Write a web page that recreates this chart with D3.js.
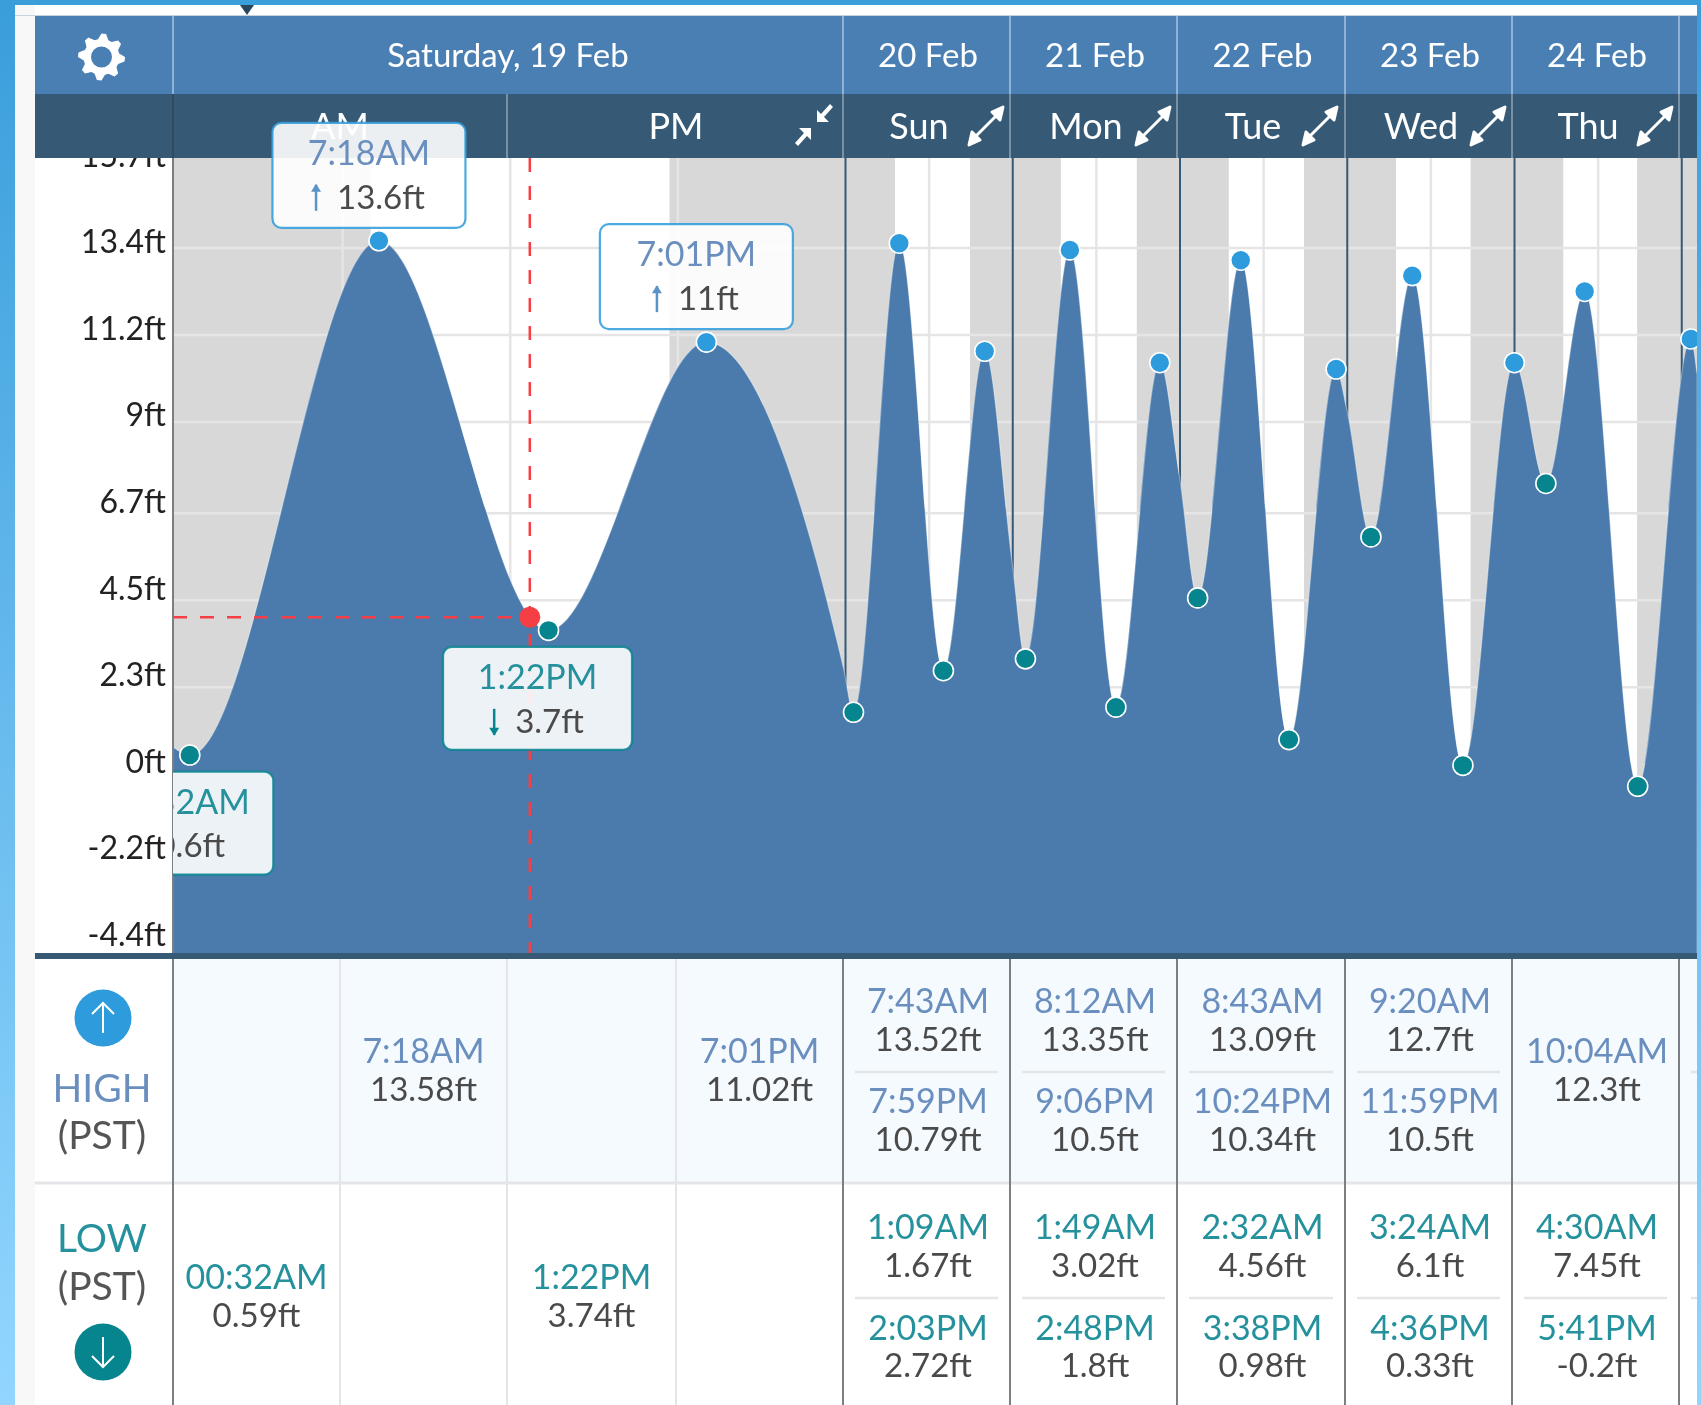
<!DOCTYPE html>
<html>
<head>
<meta charset="utf-8">
<script src="https://cdn.jsdelivr.net/npm/d3@7"></script>
<style>
  html, body { margin: 0; padding: 0; background: #fff; }
  svg { display: block; filter: blur(0.7px); }
  text { font-family: Lato, "Open Sans", sans-serif; }
</style>
</head>
<body>
<div id="chart"></div>
<script>
// *** DATA ***

//Tide curve: hours since Saturday 00:00, height in ft (extremes plus day edges)
let tideHours = [-0.08, 0.53, 7.3, 13.37, 19.02, 23.93,
  25.15, 31.72, 38.05, 43.98, 47.95,
  49.82, 56.2, 62.8, 69.1, 71.95,
  74.53, 80.72, 87.63, 94.4, 95.95,
  99.4, 105.33, 112.6, 119.98,
  124.5, 130.07, 137.68, 145.3, 146.2]
let tideFeet = [0.8, 0.59, 13.58, 3.74, 11.02, 2.78,
  1.67, 13.52, 2.72, 10.79, 5.4,
  3.02, 13.35, 1.8, 10.5, 7.6,
  4.56, 13.09, 0.98, 10.34, 9.3,
  6.1, 12.7, 0.33, 10.5,
  7.45, 12.3, -0.2, 11.1, 10.2]

let highHours = [7.3, 19.02, 31.72, 43.98, 56.2, 69.1, 80.72, 94.4, 105.33, 119.98, 130.07, 145.3]
let highFeet = [13.58, 11.02, 13.52, 10.79, 13.35, 10.5, 13.09, 10.34, 12.7, 10.5, 12.3, 11.1]
let lowHours = [0.53, 13.37, 25.15, 38.05, 49.82, 62.8, 74.53, 87.63, 99.4, 112.6, 124.5, 137.68]
let lowFeet = [0.59, 3.74, 1.67, 2.72, 3.02, 1.8, 4.56, 0.98, 6.1, 0.33, 7.45, -0.2]

let cursorHour = 12.7, cursorFeet = 4.07

let sunriseHours = [7, 31.1, 54.9, 79, 103, 127]
let sunsetHours = [17.7, 41.87, 65.8, 89.8, 113.7, 137.6]

let gridFeet = [13.4, 11.2, 9, 6.7, 4.5, 2.3]
let axisLabels = ["15.7ft", "13.4ft", "11.2ft", "9ft", "6.7ft", "4.5ft", "2.3ft", "0ft", "-2.2ft", "-4.4ft"]
let quarterHours = [6, 12, 18]
let noonHours = [36, 60, 84, 108, 132]
let dayHours = [24, 48, 72, 96, 120, 144]

let dateLabels = ["20 Feb", "21 Feb", "22 Feb", "23 Feb", "24 Feb"]
let weekdayLabels = ["Sun", "Mon", "Tue", "Wed", "Thu"]

let highTimes = [["7:43AM", "7:59PM"], ["8:12AM", "9:06PM"], ["8:43AM", "10:24PM"], ["9:20AM", "11:59PM"], ["10:04AM"]]
let highValues = [["13.52ft", "10.79ft"], ["13.35ft", "10.5ft"], ["13.09ft", "10.34ft"], ["12.7ft", "10.5ft"], ["12.3ft"]]
let lowTimes = [["1:09AM", "2:03PM"], ["1:49AM", "2:48PM"], ["2:32AM", "3:38PM"], ["3:24AM", "4:36PM"], ["4:30AM", "5:41PM"]]
let lowValues = [["1.67ft", "2.72ft"], ["3.02ft", "1.8ft"], ["4.56ft", "0.98ft"], ["6.1ft", "0.33ft"], ["7.45ft", "-0.2ft"]]

let satHighCells = [{q: 1, time: "7:18AM", value: "13.58ft"}, {q: 3, time: "7:01PM", value: "11.02ft"}]
let satLowCells = [{q: 0, time: "00:32AM", value: "0.59ft"}, {q: 2, time: "1:22PM", value: "3.74ft"}]

let tipLabels = [
  {hour: 7.3, feet: 13.58, time: "7:18AM", value: "13.6ft", kind: "high"},
  {hour: 19.02, feet: 11.02, time: "7:01PM", value: "11ft", kind: "high"},
  {hour: 0.53, feet: 0.59, time: "00:32AM", value: "0.6ft", kind: "low"},
  {hour: 13.37, feet: 3.74, time: "1:22PM", value: "3.7ft", kind: "low"}
]

// *** SETTINGS ***

let colors = {
  area: "#4a7bac", top: "#4a7fb4", band: "#365a76", night: "#d8d8d8", grid: "#e5e5e5",
  blue: "#2e9bdc", teal: "#07858f", red: "#f53f45", timeHigh: "#6a8fbf", timeLow: "#24919c",
  value: "#4a4a4a", axis: "#222", dayLine: "#7b7f83", softLine: "#e3e5e8", rowHigh: "#f5fafe"
}
let width = 1701, height = 1405
let left = 173, right = 1697
let headerTop = 16, headerMid = 94, headerBottom = 158
let chartBottom = 953, tableTop = 959, rowSplit = 1183

//Chart scales
let x = d3.scaleLinear()
  .domain([0, 24, 48, 72, 96, 120, 144, 168])
  .range([175, 845.5, 1012.75, 1180, 1347.25, 1514.5, 1681.75, 1849])
let y = d3.scaleLinear().domain([0, 13.58]).range([778.4, 240.8])
let axisY = d3.scalePoint().domain(axisLabels).range([155, 934.5])

//Header and table columns sit a few px left of the plot
let col = d3.scaleLinear()
  .domain([0, 6, 12, 18, 24, 48, 72, 96, 120, 144, 168])
  .range([173, 340, 507, 676, 843, 1010, 1177, 1345, 1512, 1679, 1846])

let svg = d3.select("#chart").append("svg")
  .attr("width", width)
  .attr("height", height)

let defs = svg.append("defs")
let grad = defs.append("linearGradient").attr("id", "edge").attr("x1", 0).attr("x2", 0).attr("y1", 0).attr("y2", 1)
grad.append("stop").attr("offset", "0%").attr("stop-color", "#3a9edb")
grad.append("stop").attr("offset", "100%").attr("stop-color", "#92d6ff")
defs.append("clipPath").attr("id", "plotClip").append("rect")
  .attr("x", left).attr("y", headerBottom).attr("width", right - left).attr("height", chartBottom - headerBottom)
defs.append("clipPath").attr("id", "tipClip").append("rect")
  .attr("x", left).attr("y", 0).attr("width", right - left).attr("height", height)

//Page background
svg.append("rect").attr("width", width).attr("height", height).attr("fill", "#fff")
svg.append("rect").attr("x", 15).attr("y", 5).attr("width", 20).attr("height", height).attr("fill", "#f8f8f8")
svg.append("rect").attr("x", 15).attr("y", 15).attr("width", width).attr("height", 1).attr("fill", "#c9d3dc")

////////////////////// CHART //////////////////////

let plot = svg.append("g").attr("clip-path", "url(#plotClip)")

//Night bands: before sunrise, after sunset
let nightEdges = [[0, sunriseHours[0]]]
sunsetHours.forEach((h, i) => {
  nightEdges.push([h, i < sunriseHours.length - 1 ? sunriseHours[i + 1] : 168])
})
plot.selectAll("rect.night")
  .data(nightEdges)
  .enter()
  .append("rect")
    .attr("class", "night")
    .attr("x", (d, i) => i == 0 ? left : x(d[0]))
    .attr("y", headerBottom)
    .attr("width", (d, i) => x(d[1]) - (i == 0 ? left : x(d[0])))
    .attr("height", chartBottom - headerBottom)
    .attr("fill", colors.night)

//Grid
plot.selectAll("line.hgrid")
  .data(gridFeet)
  .enter()
  .append("line")
    .attr("x1", left).attr("x2", right)
    .attr("y1", d => y(d)).attr("y2", d => y(d))
    .attr("stroke", colors.grid)
    .attr("stroke-width", 2.5)

plot.selectAll("line.vgrid")
  .data(quarterHours.concat(noonHours))
  .enter()
  .append("line")
    .attr("x1", d => x(d)).attr("x2", d => x(d))
    .attr("y1", headerBottom).attr("y2", chartBottom)
    .attr("stroke", colors.grid)
    .attr("stroke-width", 2.5)

plot.selectAll("line.day")
  .data(dayHours)
  .enter()
  .append("line")
    .attr("x1", d => x(d)).attr("x2", d => x(d))
    .attr("y1", headerBottom).attr("y2", chartBottom)
    .attr("stroke", colors.band)
    .attr("stroke-width", 2)

//Tide area
let area = d3.area()
  .x((d, i) => x(tideHours[i]))
  .y0(chartBottom + 2)
  .y1(d => y(d))
  .curve(d3.curveMonotoneX)

plot.append("path")
  .datum(tideFeet)
  .attr("d", area)
  .attr("fill", colors.area)
  .attr("stroke", "#fff")
  .attr("stroke-opacity", 0.35)
  .attr("stroke-width", 1.2)

//Cursor lines
plot.append("line")
  .attr("x1", x(cursorHour)).attr("x2", x(cursorHour))
  .attr("y1", headerBottom).attr("y2", chartBottom)
  .attr("stroke", colors.red).attr("stroke-width", 2.5).attr("stroke-dasharray", "14,14")
plot.append("line")
  .attr("x1", left).attr("x2", x(cursorHour))
  .attr("y1", y(cursorFeet)).attr("y2", y(cursorFeet))
  .attr("stroke", colors.red).attr("stroke-width", 2.5).attr("stroke-dasharray", "14,13")

//Dots
plot.selectAll("circle.high")
  .data(highFeet)
  .enter()
  .append("circle")
    .attr("cx", (d, i) => x(highHours[i]))
    .attr("cy", d => y(d))
    .attr("r", 10)
    .attr("fill", colors.blue)
    .attr("stroke", "#fff")
    .attr("stroke-width", 1.6)

plot.selectAll("circle.low")
  .data(lowFeet)
  .enter()
  .append("circle")
    .attr("cx", (d, i) => x(lowHours[i]))
    .attr("cy", d => y(d))
    .attr("r", 10)
    .attr("fill", colors.teal)
    .attr("stroke", "#fff")
    .attr("stroke-width", 1.6)

plot.append("circle")
  .attr("cx", x(cursorHour))
  .attr("cy", y(cursorFeet))
  .attr("r", 10.5)
  .attr("fill", colors.red)

//Axis labels
svg.selectAll("text.axis")
  .data(axisLabels)
  .enter()
  .append("text")
    .attr("class", "axis")
    .attr("x", 166)
    .attr("y", d => axisY(d))
    .attr("dy", "0.36em")
    .attr("text-anchor", "end")
    .style("font-size", "32px")
    .style("fill", colors.axis)
    .text(d => d)

svg.append("line")
  .attr("x1", left).attr("x2", left)
  .attr("y1", headerBottom).attr("y2", chartBottom)
  .attr("stroke", colors.dayLine).attr("stroke-width", 2)

////////////////////// HEADER //////////////////////

let header = svg.append("g")
header.append("rect").attr("x", 35).attr("y", headerTop).attr("width", right - 35).attr("height", headerMid - headerTop).attr("fill", colors.top)
header.append("rect").attr("x", 35).attr("y", headerMid).attr("width", right - 35).attr("height", headerBottom - headerMid).attr("fill", colors.band)

let headerLines = [0, 24, 48, 72, 96, 120, 144]
header.selectAll("line.top")
  .data(headerLines)
  .enter()
  .append("line")
    .attr("x1", d => col(d)).attr("x2", d => col(d))
    .attr("y1", headerTop).attr("y2", headerMid)
    .attr("stroke", "#a9c3dc").attr("stroke-width", 1.5)
header.selectAll("line.mid")
  .data(headerLines.concat([12]))
  .enter()
  .append("line")
    .attr("x1", d => col(d)).attr("x2", d => col(d))
    .attr("y1", headerMid).attr("y2", headerBottom)
    .attr("stroke", d => d == 0 ? "#2d4759" : "#8fa5b6").attr("stroke-width", 1.5)

//Small pointer above the header
header.append("path")
  .attr("d", d3.line()([[240, 5], [254, 5], [247, 15]]) + "Z")
  .attr("fill", "#28475f")

//Gear icon
let gear = d3.path()
let teeth = 8
for (let i = 0; i < teeth * 4; i++) {
  let a = (i + 0.5) / (teeth * 4) * 2 * Math.PI - Math.PI / 2 - Math.PI / (teeth * 4)
  let r = (i % 4 == 0 || i % 4 == 1) ? 23.5 : 18
  let px = r * Math.cos(a), py = r * Math.sin(a)
  if (i == 0) gear.moveTo(px, py); else gear.lineTo(px, py)
}
gear.closePath()
gear.moveTo(10.5, 0)
gear.arc(0, 0, 10.5, 0, 2 * Math.PI)
header.append("path")
  .attr("transform", "translate(101.5,57)")
  .attr("d", gear.toString())
  .attr("fill", "#fff")
  .attr("fill-rule", "evenodd")

function headerText(px, py, size, txt) {
  return header.append("text")
    .attr("x", px)
    .attr("y", py)
    .attr("dy", "0.36em")
    .attr("text-anchor", "middle")
    .style("font-size", size + "px")
    .style("fill", "#fff")
    .text(txt)
}

headerText((col(0) + col(24)) / 2, 55, 33, "Saturday, 19 Feb")
headerText(340, 126, 36, "AM")
headerText(676, 126, 36, "PM")

header.selectAll("text.date")
  .data(dateLabels)
  .enter()
  .append("text")
    .attr("x", (d, i) => (col(dayHours[i]) + col(dayHours[i] + 24)) / 2 + 1.5)
    .attr("y", 55)
    .attr("dy", "0.36em")
    .attr("text-anchor", "middle")
    .style("font-size", "33px")
    .style("fill", "#fff")
    .text(d => d)

header.selectAll("text.weekday")
  .data(weekdayLabels)
  .enter()
  .append("text")
    .attr("x", (d, i) => col(dayHours[i]) + 76)
    .attr("y", 126)
    .attr("dy", "0.36em")
    .attr("text-anchor", "middle")
    .style("font-size", "36px")
    .style("fill", "#fff")
    .text(d => d)

//Expand icons
let expandIcon = "M-17,19L-14,6L-10,10L10,-10L6,-14L17,-19L14,-6L10,-10L-10,10L-6,14Z"
let shrinkIcon = "M3,-3L3,-15L7,-11L16,-21L19,-18L10,-8L15,-3ZM-3,3L-3,15L-7,11L-16,21L-19,18L-10,8L-15,3Z"
header.append("path").attr("transform", "translate(814,125)").attr("d", shrinkIcon).attr("fill", "#fff")
header.selectAll("path.expand")
  .data(weekdayLabels)
  .enter()
  .append("path")
    .attr("transform", (d, i) => "translate(" + (col(dayHours[i]) + 143) + ",126)")
    .attr("d", expandIcon)
    .attr("fill", "#fff")
    .attr("stroke", "#fff")
    .attr("stroke-width", 3)
    .attr("stroke-linejoin", "round")

////////////////////// TOOLTIPS //////////////////////

let tips = svg.append("g").attr("clip-path", "url(#tipClip)")
tipLabels.forEach(d => {
  let isHigh = d.kind == "high"
  let w = isHigh ? 193 : 189, h = isHigh ? 105 : 103
  let cx = x(d.hour) - (isHigh ? 10 : 11)
  let top = isHigh ? y(d.feet) - 13 - h : y(d.feet) + 16.5
  let main = isHigh ? colors.blue : colors.teal

  tips.append("rect")
    .attr("x", cx - w / 2).attr("y", top)
    .attr("width", w).attr("height", h)
    .attr("rx", 9).attr("ry", 9)
    .attr("fill", "#fff").attr("fill-opacity", 0.9)
    .attr("stroke", main).attr("stroke-opacity", 0.85).attr("stroke-width", 2.2)

  tips.append("text")
    .attr("x", cx).attr("y", top + 30).attr("dy", "0.36em")
    .attr("text-anchor", "middle")
    .style("font-size", "34px")
    .style("fill", isHigh ? colors.timeHigh : colors.timeLow)
    .text(d.time)

  let valueText = tips.append("text")
    .attr("y", top + 74).attr("dy", "0.36em")
    .style("font-size", "33px")
    .style("fill", colors.value)
    .text(d.value)
  let vw = valueText.node().getComputedTextLength()
  let startX = cx - (vw + 24) / 2
  valueText.attr("x", startX + 24)

  //Arrow beside the value
  let ax = startX + 3, ay = top + 75
  tips.append("line")
    .attr("x1", ax).attr("x2", ax)
    .attr("y1", ay - 13).attr("y2", ay + 13)
    .attr("stroke", isHigh ? "#5b93c8" : colors.teal)
    .attr("stroke-width", 2.5)
  tips.append("path")
    .attr("d", isHigh
      ? d3.line()([[ax - 5, ay - 6], [ax, ay - 14], [ax + 5, ay - 6]]) + "Z"
      : d3.line()([[ax - 5, ay + 6], [ax, ay + 14], [ax + 5, ay + 6]]) + "Z")
    .attr("fill", isHigh ? "#5b93c8" : colors.teal)
})

////////////////////// TABLE //////////////////////

let table = svg.append("g")
table.append("rect").attr("x", left).attr("y", tableTop).attr("width", right - left).attr("height", rowSplit - tableTop).attr("fill", colors.rowHigh)
table.append("rect").attr("x", 35).attr("y", chartBottom).attr("width", right - 35).attr("height", tableTop - chartBottom).attr("fill", colors.band)
table.append("line").attr("x1", 35).attr("x2", right).attr("y1", rowSplit).attr("y2", rowSplit).attr("stroke", colors.softLine).attr("stroke-width", 3)

table.selectAll("line.quarter")
  .data(quarterHours)
  .enter()
  .append("line")
    .attr("x1", d => col(d)).attr("x2", d => col(d))
    .attr("y1", tableTop).attr("y2", height)
    .attr("stroke", colors.softLine)
    .attr("stroke-width", 2)

table.selectAll("line.dayCol")
  .data(headerLines)
  .enter()
  .append("line")
    .attr("x1", d => col(d)).attr("x2", d => col(d))
    .attr("y1", tableTop).attr("y2", height)
    .attr("stroke", colors.dayLine)
    .attr("stroke-width", 2)

function cell(px, py, txt, color, size) {
  table.append("text")
    .attr("x", px)
    .attr("y", py)
    .attr("dy", "0.36em")
    .attr("text-anchor", "middle")
    .style("font-size", size + "px")
    .style("fill", color)
    .text(txt)
}

//Row offsets: single entry sits mid row, two entries split by a rule
let rows = [
  {times: highTimes, values: highValues, sat: satHighCells, color: colors.timeHigh, single: [1050.5, 1089.5], pair: [1000.5, 1039.5, 1101, 1139.5], rule: 1072},
  {times: lowTimes, values: lowValues, sat: satLowCells, color: colors.timeLow, single: [1276.5, 1315.5], pair: [1226.5, 1265.5, 1327.5, 1365.5], rule: 1298}
]

rows.forEach(row => {
  row.sat.forEach(c => {
    let cx = (col(c.q * 6) + col(c.q * 6 + 6)) / 2
    cell(cx, row.single[0], c.time, row.color, 34)
    cell(cx, row.single[1], c.value, colors.value, 33)
  })
  row.times.forEach((t, i) => {
    let start = col(dayHours[i]), end = col(dayHours[i] + 24)
    let cx = (start + end) / 2 + 1.5
    if (t.length == 1) {
      cell(cx, row.single[0], t[0], row.color, 34)
      cell(cx, row.single[1], row.values[i][0], colors.value, 33)
    } else {
      cell(cx, row.pair[0], t[0], row.color, 34)
      cell(cx, row.pair[1], row.values[i][0], colors.value, 33)
      cell(cx, row.pair[2], t[1], row.color, 34)
      cell(cx, row.pair[3], row.values[i][1], colors.value, 33)
      table.append("line")
        .attr("x1", start + 12).attr("x2", end - 12)
        .attr("y1", row.rule).attr("y2", row.rule)
        .attr("stroke", colors.softLine).attr("stroke-width", 2.5)
    }
  })
  //Next day's rule just peeks in at the right edge
  table.append("line")
    .attr("x1", col(144) + 12).attr("x2", right)
    .attr("y1", row.rule).attr("y2", row.rule)
    .attr("stroke", colors.softLine).attr("stroke-width", 2.5)
})

//Row titles
function rowTitle(py, txt, color, size) {
  table.append("text")
    .attr("x", 102)
    .attr("y", py)
    .attr("dy", "0.36em")
    .attr("text-anchor", "middle")
    .style("font-size", size + "px")
    .style("fill", color)
    .text(txt)
}
rowTitle(1088, "HIGH", colors.timeHigh, 39)
rowTitle(1135, "(PST)", "#555", 39)
rowTitle(1238, "LOW", colors.timeLow, 39)
rowTitle(1286, "(PST)", "#555", 39)

function rowIcon(cy, color, up) {
  table.append("circle").attr("cx", 103).attr("cy", cy).attr("r", 28.5).attr("fill", color)
  let s = up ? -1 : 1
  table.append("path")
    .attr("d", "M103," + (cy - s * 15) + "L103," + (cy + s * 15) + "M92," + (cy + s * 4) + "L103," + (cy + s * 15) + "L114," + (cy + s * 4))
    .attr("fill", "none")
    .attr("stroke", "#fff")
    .attr("stroke-width", 2)
}
rowIcon(1018, colors.blue, true)
rowIcon(1352, colors.teal, false)

////////////////////// PAGE EDGES //////////////////////

svg.append("rect").attr("x", 0).attr("y", 0).attr("width", 15).attr("height", height).attr("fill", "url(#edge)")
svg.append("rect").attr("x", right).attr("y", 0).attr("width", width - right).attr("height", height).attr("fill", "url(#edge)")
svg.append("rect").attr("x", 0).attr("y", 0).attr("width", width).attr("height", 5).attr("fill", "#3a9edb")
</script>
</body>
</html>
